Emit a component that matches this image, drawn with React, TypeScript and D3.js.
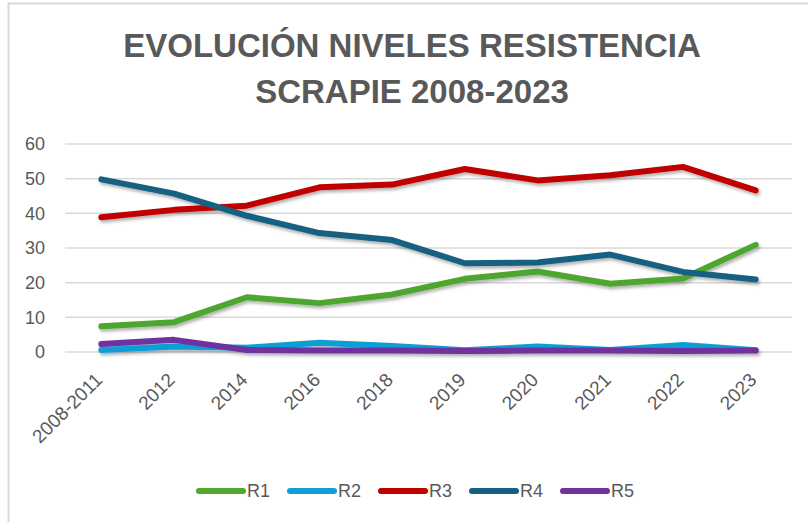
import { useEffect, useRef } from 'react'
import * as d3 from 'd3'

const W = 808
const H = 522

const CATEGORIES = ['2008-2011', '2012', '2014', '2016', '2018', '2019', '2020', '2021', '2022', '2023']
const R1 = [7.4, 8.6, 15.8, 14.1, 16.6, 21.1, 23.2, 19.7, 21.2, 30.9]
const R2 = [0.6, 1.6, 1.2, 2.7, 1.7, 0.5, 1.6, 0.6, 2.0, 0.5]
const R3 = [38.9, 41.0, 42.2, 47.5, 48.3, 52.8, 49.5, 51.0, 53.4, 46.6]
const R4 = [49.8, 45.7, 39.3, 34.3, 32.3, 25.6, 25.8, 28.1, 23.1, 20.9]
const R5 = [2.3, 3.5, 0.6, 0.4, 0.4, 0.3, 0.4, 0.4, 0.3, 0.4]
const Y_TICKS = [0, 10, 20, 30, 40, 50, 60]
const TITLE = ['EVOLUCIÓN NIVELES RESISTENCIA', 'SCRAPIE 2008-2023']

const SERIES = [
  { name: 'R1', values: R1, color: '#4ea72e' },
  { name: 'R2', values: R2, color: '#0f9ed5' },
  { name: 'R3', values: R3, color: '#c00000' },
  { name: 'R4', values: R4, color: '#156082' },
  { name: 'R5', values: R5, color: '#7030a0' },
]

const MARGIN = { top: 144, right: 16, bottom: 170, left: 65 }
const TEXT = '#595959'
const GRID = '#d9d9d9'
const FONT = '"Liberation Sans", Arial, sans-serif'

export default function App() {
  const ref = useRef<SVGSVGElement>(null)

  useEffect(() => {
    if (!ref.current) return
    const svg = d3.select(ref.current)
    svg.selectAll('*').remove()

    const x = d3.scaleBand<string>()
      .domain(CATEGORIES)
      .range([MARGIN.left, W - MARGIN.right])

    const y = d3.scaleLinear()
      .domain([0, 60])
      .range([352, MARGIN.top])

    // shadow under the lines
    const defs = svg.append('defs')
    defs.append('filter')
      .attr('id', 'shadow')
      .attr('x', '-10%').attr('y', '-10%')
      .attr('width', '120%').attr('height', '140%')
      .append('feDropShadow')
      .attr('dx', 1.5).attr('dy', 2.5)
      .attr('stdDeviation', 1.6)
      .attr('flood-color', '#000')
      .attr('flood-opacity', 0.3)

    // ── Frame ───────────────────────────────────────────────────────────
    svg.append('path')
      .attr('d', `M8.5,${H} L8.5,3.5 L${W},3.5`)
      .attr('fill', 'none')
      .attr('stroke', GRID)
      .attr('stroke-width', 2)

    // ── Title ───────────────────────────────────────────────────────────
    svg.append('g')
      .selectAll('text')
      .data(TITLE)
      .join('text')
      .attr('x', 412)
      .attr('y', (_d, i) => 57 + i * 46)
      .attr('text-anchor', 'middle')
      .attr('font-family', FONT)
      .attr('font-weight', 700)
      .attr('font-size', 33)
      .attr('fill', TEXT)
      .text(d => d)

    // ── Grid + y labels ─────────────────────────────────────────────────
    const gridG = svg.append('g')
    gridG.selectAll('line')
      .data(Y_TICKS)
      .join('line')
      .attr('x1', MARGIN.left)
      .attr('x2', W - MARGIN.right)
      .attr('y1', d => y(d))
      .attr('y2', d => y(d))
      .attr('stroke', GRID)
      .attr('stroke-width', 1.5)

    gridG.selectAll('text')
      .data(Y_TICKS)
      .join('text')
      .attr('x', 45)
      .attr('y', d => y(d))
      .attr('dy', '0.36em')
      .attr('text-anchor', 'end')
      .attr('font-family', FONT)
      .attr('font-size', 18)
      .attr('fill', TEXT)
      .text(d => d)

    // ── X labels ────────────────────────────────────────────────────────
    svg.append('g')
      .selectAll('text')
      .data(CATEGORIES)
      .join('text')
      .attr('transform', d => `translate(${x(d)! + x.bandwidth() / 2 + 2},381) rotate(-45)`)
      .attr('text-anchor', 'end')
      .attr('font-family', FONT)
      .attr('font-size', 19)
      .attr('fill', TEXT)
      .text(d => d)

    // ── Lines ───────────────────────────────────────────────────────────
    const line = d3.line<number>()
      .x((_d, i) => x(CATEGORIES[i])! + x.bandwidth() / 2)
      .y(d => y(d))

    svg.append('g')
      .attr('filter', 'url(#shadow)')
      .selectAll('path')
      .data(SERIES)
      .join('path')
      .attr('d', d => line(d.values))
      .attr('fill', 'none')
      .attr('stroke', d => d.color)
      .attr('stroke-width', 6)
      .attr('stroke-linejoin', 'round')
      .attr('stroke-linecap', 'round')

    // ── Legend ──────────────────────────────────────────────────────────
    const legG = svg.append('g')
      .selectAll('g')
      .data(SERIES)
      .join('g')
      .attr('transform', (_d, i) => `translate(${199 + i * 91},491)`)

    legG.append('line')
      .attr('x1', 0).attr('x2', 44)
      .attr('stroke', d => d.color)
      .attr('stroke-width', 6)
      .attr('stroke-linecap', 'round')

    legG.append('text')
      .attr('x', 48)
      .attr('dy', '0.36em')
      .attr('font-family', FONT)
      .attr('font-size', 18)
      .attr('fill', TEXT)
      .text(d => d.name)
  }, [])

  return (
    <svg
      ref={ref}
      width={W}
      height={H}
      viewBox={`0 0 ${W} ${H}`}
      style={{ position: 'absolute', left: 0, top: 0, background: '#fff', display: 'block' }}
    />
  )
}
